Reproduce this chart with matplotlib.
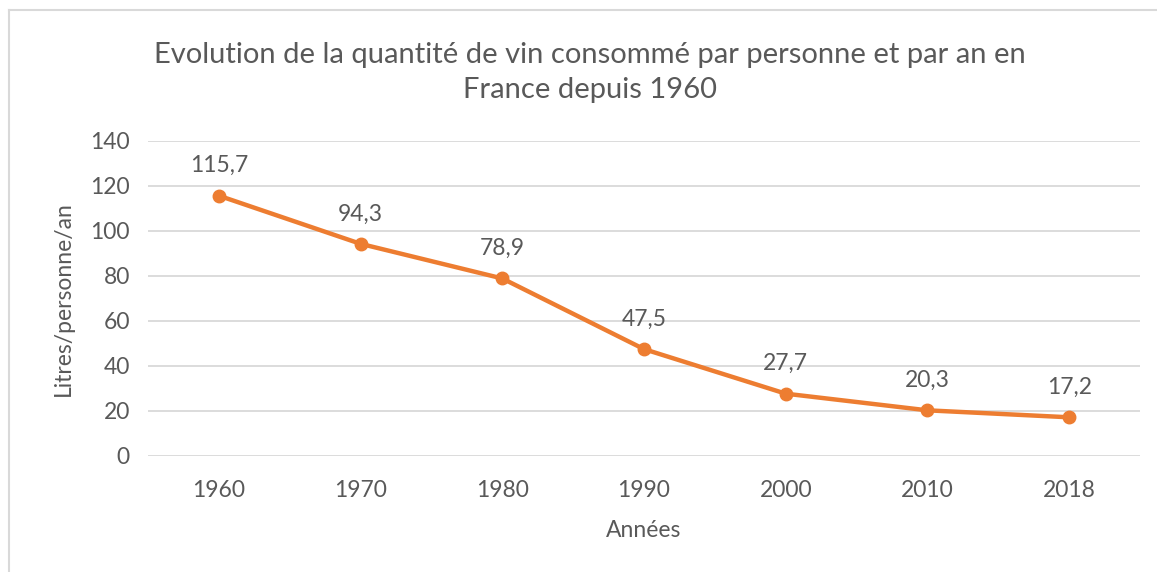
import matplotlib.pyplot as plt
from matplotlib.lines import Line2D

plt.rcParams['font.family'] = ['Lato', 'DejaVu Sans']

# Data
years = ['1960', '1970', '1980', '1990', '2000', '2010', '2018']
litres = [115.7, 94.3, 78.9, 47.5, 27.7, 20.3, 17.2]
labels = ['115,7', '94,3', '78,9', '47,5', '27,7', '20,3', '17,2']

text_color = '#595959'
orange = '#ED7D31'

fig = plt.figure(figsize=(11.57, 5.72), dpi=100)
ax = fig.add_axes([0.1279, 0.2028, 0.8574, 0.5507])

x = range(len(years))
ax.plot(x, litres, color=orange, linewidth=3.2, marker='o', markersize=9,
        solid_capstyle='round', zorder=3)

for xi, yi, lab in zip(x, litres, labels):
    ax.annotate(lab, (xi, yi), xytext=(0, 14), textcoords='offset points',
                ha='center', va='bottom', fontsize=16.5, color=text_color)

ax.set_xlim(-0.5, len(years) - 0.5)
ax.set_ylim(0, 140)
ax.set_yticks(range(0, 141, 20))
ax.set_xticks(list(x))
ax.set_xticklabels(years)
ax.grid(axis='y', color='#D9D9D9', linewidth=1.3)
ax.set_axisbelow(True)
for s in ax.spines.values():
    s.set_visible(False)
ax.tick_params(length=0, labelsize=16.5, colors=text_color, pad=13)
ax.tick_params(axis='x', pad=17)

ax.set_ylabel('Litres/personne/an', fontsize=16.5, color=text_color, labelpad=12)
ax.set_xlabel('Années', fontsize=16.5, color=text_color, labelpad=14)

fig.text(0.51, 0.873, 'Evolution de la quantité de vin consommé par personne et par an en\nFrance depuis 1960',
         ha='center', va='center', fontsize=21, color=text_color, linespacing=1.45)

# chart border
fig.add_artist(Line2D([0.0075, 0.0075], [0.0, 0.982], color='#D9D9D9', linewidth=1.5))
fig.add_artist(Line2D([0.0075, 1.0], [0.982, 0.982], color='#D9D9D9', linewidth=1.5))

fig.savefig('out.png', dpi=100)
